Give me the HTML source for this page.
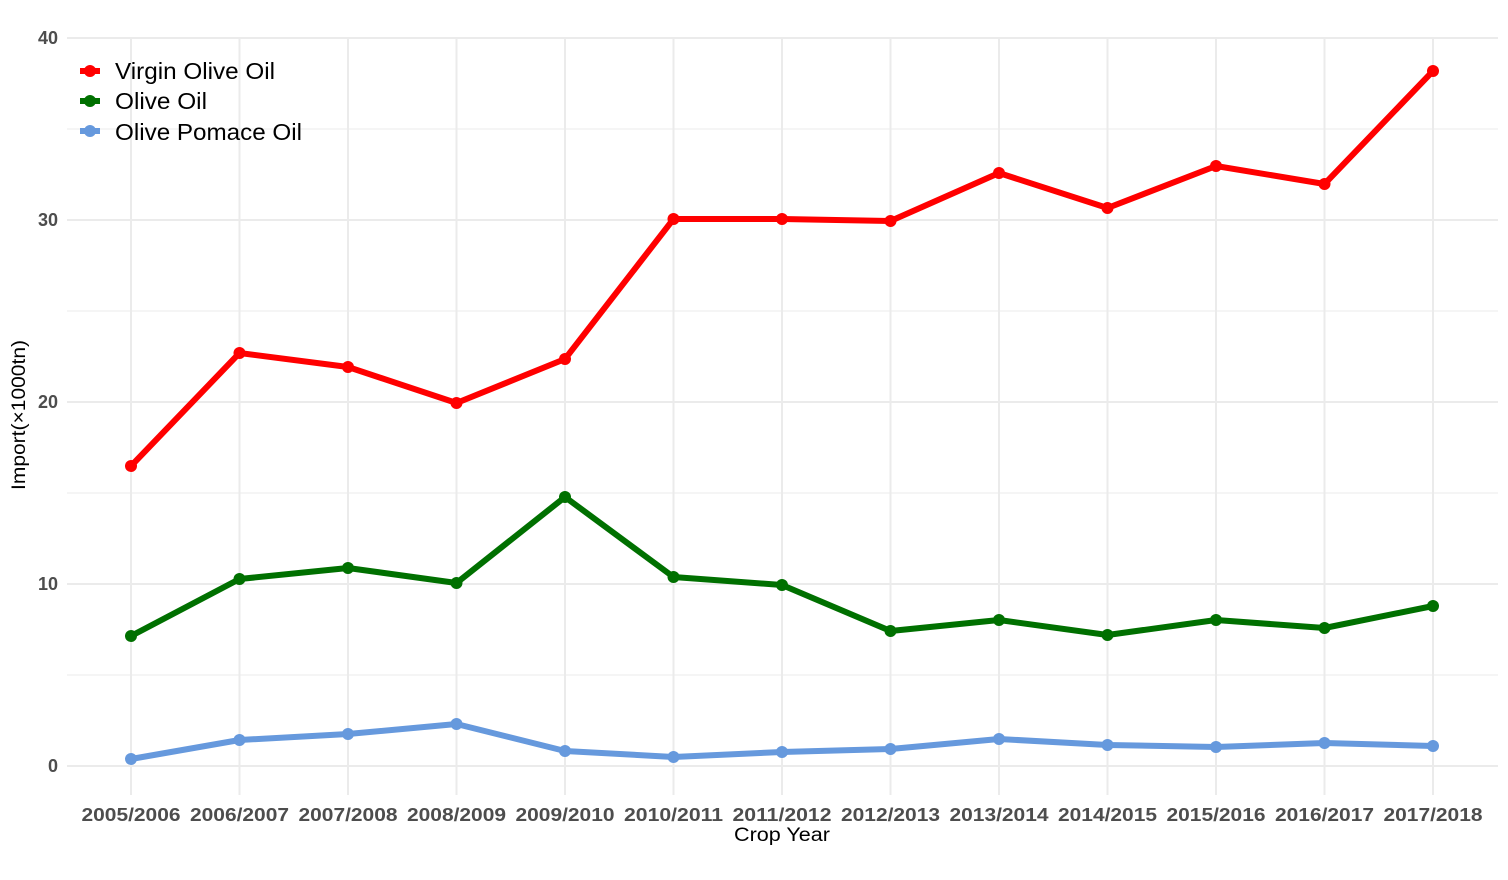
<!DOCTYPE html>
<html><head><meta charset="utf-8"><style>body{margin:0;background:#fff}svg{display:block}</style></head><body>
<svg width="1508" height="880" xmlns="http://www.w3.org/2000/svg" font-family="Liberation Sans, sans-serif">
<g stroke="#ebebeb" stroke-width="1">
<line x1="67" x2="1498" y1="675" y2="675"/><line x1="67" x2="1498" y1="493" y2="493"/><line x1="67" x2="1498" y1="311" y2="311"/><line x1="67" x2="1498" y1="129" y2="129"/>
</g>
<g stroke="#ebebeb" stroke-width="2">
<line x1="67" x2="1498" y1="766" y2="766"/><line x1="67" x2="1498" y1="584" y2="584"/><line x1="67" x2="1498" y1="402" y2="402"/><line x1="67" x2="1498" y1="220" y2="220"/><line x1="67" x2="1498" y1="38" y2="38"/>
<line x1="131" x2="131" y1="38" y2="795"/><line x1="239.5" x2="239.5" y1="38" y2="795"/><line x1="348" x2="348" y1="38" y2="795"/><line x1="456.5" x2="456.5" y1="38" y2="795"/><line x1="565" x2="565" y1="38" y2="795"/><line x1="673.5" x2="673.5" y1="38" y2="795"/><line x1="782" x2="782" y1="38" y2="795"/><line x1="890.5" x2="890.5" y1="38" y2="795"/><line x1="999" x2="999" y1="38" y2="795"/><line x1="1107.5" x2="1107.5" y1="38" y2="795"/><line x1="1216" x2="1216" y1="38" y2="795"/><line x1="1324.5" x2="1324.5" y1="38" y2="795"/><line x1="1433" x2="1433" y1="38" y2="795"/>
</g>
<g fill="none" stroke-width="6" stroke-linejoin="round">
<polyline stroke="#ff0000" points="131,466 239.5,353 348,367 456.5,403 565,359 673.5,219 782,219 890.5,221 999,173 1107.5,208 1216,166 1324.5,184 1433,71"/>
<polyline stroke="#007000" points="131,636 239.5,579 348,568 456.5,583 565,497 673.5,577 782,585 890.5,631 999,620 1107.5,635 1216,620 1324.5,628 1433,606"/>
<polyline stroke="#6699dd" points="131,759 239.5,740 348,734 456.5,724 565,751 673.5,757 782,752 890.5,749 999,739 1107.5,745 1216,747 1324.5,743 1433,746"/>
</g>
<g fill="#ff0000"><circle cx="131" cy="466" r="6"/><circle cx="239.5" cy="353" r="6"/><circle cx="348" cy="367" r="6"/><circle cx="456.5" cy="403" r="6"/><circle cx="565" cy="359" r="6"/><circle cx="673.5" cy="219" r="6"/><circle cx="782" cy="219" r="6"/><circle cx="890.5" cy="221" r="6"/><circle cx="999" cy="173" r="6"/><circle cx="1107.5" cy="208" r="6"/><circle cx="1216" cy="166" r="6"/><circle cx="1324.5" cy="184" r="6"/><circle cx="1433" cy="71" r="6"/></g>
<g fill="#007000"><circle cx="131" cy="636" r="6"/><circle cx="239.5" cy="579" r="6"/><circle cx="348" cy="568" r="6"/><circle cx="456.5" cy="583" r="6"/><circle cx="565" cy="497" r="6"/><circle cx="673.5" cy="577" r="6"/><circle cx="782" cy="585" r="6"/><circle cx="890.5" cy="631" r="6"/><circle cx="999" cy="620" r="6"/><circle cx="1107.5" cy="635" r="6"/><circle cx="1216" cy="620" r="6"/><circle cx="1324.5" cy="628" r="6"/><circle cx="1433" cy="606" r="6"/></g>
<g fill="#6699dd"><circle cx="131" cy="759" r="6"/><circle cx="239.5" cy="740" r="6"/><circle cx="348" cy="734" r="6"/><circle cx="456.5" cy="724" r="6"/><circle cx="565" cy="751" r="6"/><circle cx="673.5" cy="757" r="6"/><circle cx="782" cy="752" r="6"/><circle cx="890.5" cy="749" r="6"/><circle cx="999" cy="739" r="6"/><circle cx="1107.5" cy="745" r="6"/><circle cx="1216" cy="747" r="6"/><circle cx="1324.5" cy="743" r="6"/><circle cx="1433" cy="746" r="6"/></g>
<g font-size="18" font-weight="bold" fill="#4d4d4d" text-anchor="end">
<text x="58" y="772">0</text><text x="58" y="590">10</text><text x="58" y="408">20</text><text x="58" y="226">30</text><text x="58" y="44">40</text>
</g>
<g font-size="18" font-weight="bold" fill="#4d4d4d" text-anchor="middle" textLength="99" lengthAdjust="spacingAndGlyphs">
<text x="131" y="821" textLength="99" lengthAdjust="spacingAndGlyphs">2005/2006</text><text x="239.5" y="821" textLength="99" lengthAdjust="spacingAndGlyphs">2006/2007</text><text x="348" y="821" textLength="99" lengthAdjust="spacingAndGlyphs">2007/2008</text><text x="456.5" y="821" textLength="99" lengthAdjust="spacingAndGlyphs">2008/2009</text><text x="565" y="821" textLength="99" lengthAdjust="spacingAndGlyphs">2009/2010</text><text x="673.5" y="821" textLength="99" lengthAdjust="spacingAndGlyphs">2010/2011</text><text x="782" y="821" textLength="99" lengthAdjust="spacingAndGlyphs">2011/2012</text><text x="890.5" y="821" textLength="99" lengthAdjust="spacingAndGlyphs">2012/2013</text><text x="999" y="821" textLength="99" lengthAdjust="spacingAndGlyphs">2013/2014</text><text x="1107.5" y="821" textLength="99" lengthAdjust="spacingAndGlyphs">2014/2015</text><text x="1216" y="821" textLength="99" lengthAdjust="spacingAndGlyphs">2015/2016</text><text x="1324.5" y="821" textLength="99" lengthAdjust="spacingAndGlyphs">2016/2017</text><text x="1433" y="821" textLength="99" lengthAdjust="spacingAndGlyphs">2017/2018</text>
</g>
<text x="782" y="841" font-size="19" text-anchor="middle" fill="#000" textLength="96" lengthAdjust="spacingAndGlyphs">Crop Year</text>
<text transform="translate(25,415) rotate(-90)" font-size="19" text-anchor="middle" fill="#000" textLength="150" lengthAdjust="spacingAndGlyphs">Import(×1000tn)</text>
<g stroke-width="6"><line x1="80" x2="100" y1="71" y2="71" stroke="#ff0000"/><line x1="80" x2="100" y1="101" y2="101" stroke="#007000"/><line x1="80" x2="100" y1="131" y2="131" stroke="#6699dd"/></g>
<circle cx="90" cy="71" r="6" fill="#ff0000"/><circle cx="90" cy="101" r="6" fill="#007000"/><circle cx="90" cy="131" r="6" fill="#6699dd"/>
<g font-size="23" fill="#000"><text x="115" y="79" textLength="160" lengthAdjust="spacingAndGlyphs">Virgin Olive Oil</text><text x="115" y="109" textLength="92" lengthAdjust="spacingAndGlyphs">Olive Oil</text><text x="115" y="140" textLength="187" lengthAdjust="spacingAndGlyphs">Olive Pomace Oil</text></g>
</svg>
</body></html>
